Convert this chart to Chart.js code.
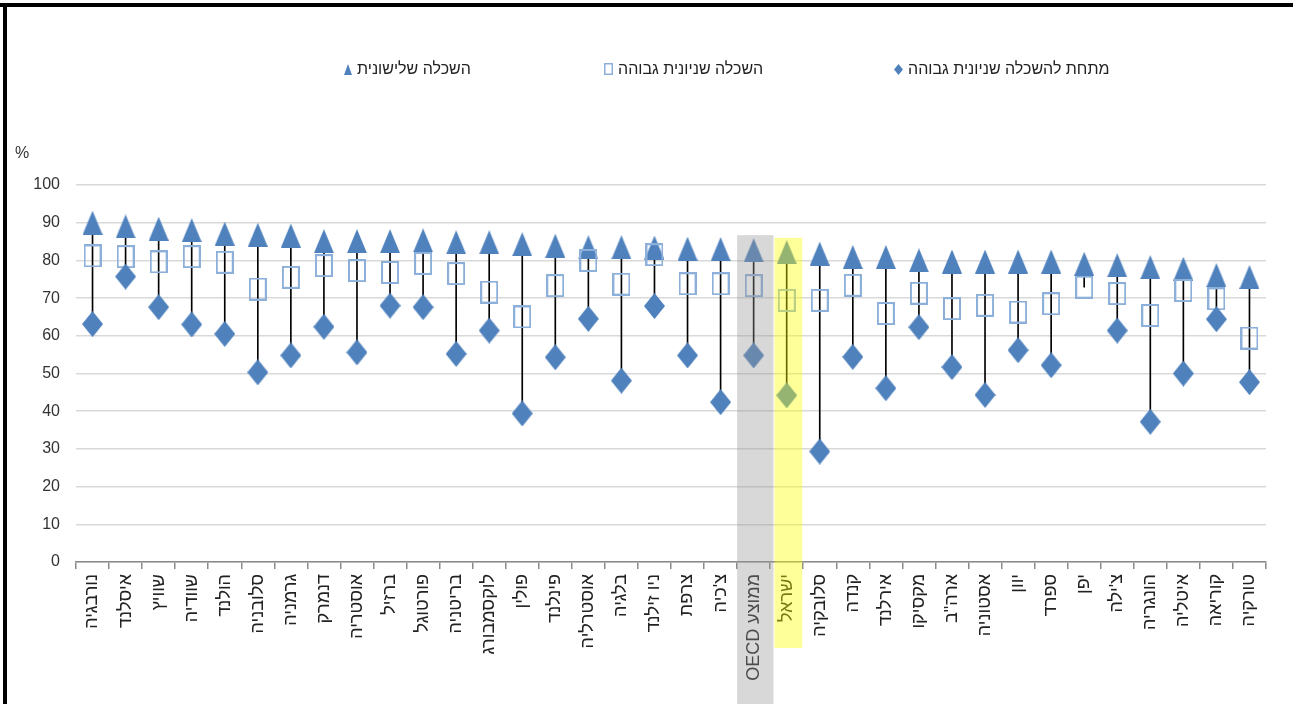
<!DOCTYPE html>
<html lang="he">
<head>
<meta charset="utf-8">
<script src="https://cdn.jsdelivr.net/npm/chart.js@4.4.1/dist/chart.umd.min.js"></script>
<style>
  html, body { margin: 0; padding: 0; background: #fff; }
  #wrap { position: relative; width: 1293px; height: 704px; overflow: hidden; background: #fff; }
  #c { position: absolute; left: 0; top: 0; }
  .frameTop { position: absolute; left: 0; top: 3px; width: 1293px; height: 4px; background: #000; }
  .frameLeft { position: absolute; left: 3px; top: 3px; width: 4px; height: 701px; background: #000; }
  .lg { position: absolute; top: 60px; height: 18px; display: flex; align-items: center; gap: 5px;
        font-family: "Liberation Sans", "DejaVu Sans", sans-serif; font-size: 16px; color: #222; white-space: nowrap; }
  .lg span { direction: rtl; unicode-bidi: isolate; }
  .lg canvas { display: block; }
</style>
</head>
<body>
<div id="wrap">
  <canvas id="c" width="1293" height="704" dir="rtl"></canvas>
  <div class="frameTop"></div>
  <div class="frameLeft"></div>
  <div class="lg" id="lg0" style="left:344px"></div>
  <div class="lg" id="lg1" style="left:604px"></div>
  <div class="lg" id="lg2" style="left:894px"></div>
</div>
<script>
// ---- data ----
const categories = ['נורבגיה','איסלנד','שוויץ','שוודיה','הולנד','סלובניה','גרמניה','דנמרק','אוסטריה','ברזיל',
  'פורטוגל','בריטניה','לוקסמבורג','פולין','פינלנד','אוסטרליה','בלגיה','ניו זילנד','צרפת','צ\'כיה',
  'ממוצע OECD','ישראל','סלובקיה','קנדה','אירלנד','מקסיקו','ארה"ב','אסטוניה','יוון','ספרד',
  'יפן','צ\'ילה','הונגריה','איטליה','קוריאה','טורקיה'];

const tertiary = [90.0, 89.0, 88.4, 88.0, 87.1, 86.8, 86.6, 85.1, 85.1, 85.1,
  85.3, 84.8, 84.8, 84.3, 83.9, 83.5, 83.5, 83.4, 83.1, 83.0,
  82.7, 82.2, 81.8, 80.9, 80.9, 80.0, 79.7, 79.7, 79.7, 79.7,
  79.1, 78.7, 78.2, 77.8, 76.1, 75.6];

const upperSecondary = [81.2, 81.0, 79.6, 81.0, 79.5, 72.4, 75.5, 78.6, 77.3, 76.8,
  79.2, 76.5, 71.6, 65.0, 73.3, 80.0, 73.7, 81.5, 73.8, 73.8,
  73.3, 69.4, 69.4, 73.4, 65.9, 71.3, 67.2, 68.1, 66.3, 68.5,
  72.9, 71.2, 65.4, 72.0, 69.8, 59.4];

const belowUpperSecondary = [63.1, 75.7, 67.6, 63.0, 60.5, 50.3, 54.8, 62.4, 55.6, 68.0,
  67.6, 55.2, 61.4, 39.4, 54.3, 64.5, 48.1, 67.9, 54.8, 42.4,
  54.8, 44.2, 29.3, 54.4, 46.1, 62.3, 51.7, 44.3, 56.2, 52.2,
  null, 61.4, 37.2, 50.0, 64.4, 47.7];

const seriesNames = ['השכלה שלישונית', 'השכלה שניונית גבוהה', 'מתחת להשכלה שניונית גבוהה'];
const yTicks = [0, 10, 20, 30, 40, 50, 60, 70, 80, 90, 100];
const highlightOECD = 'ממוצע OECD';
const highlightIsrael = 'ישראל';

// ---- marker images ----
const BLUE = '#4F81BD';
const LIGHT = '#8DB0DA';
function makeMarker(kind, w, h, lw) {
  const c = document.createElement('canvas');
  c.width = w; c.height = h;
  const g = c.getContext('2d');
  g.beginPath();
  if (kind === 'tri') {
    g.moveTo(w / 2, 0); g.lineTo(w, h); g.lineTo(0, h); g.closePath();
    g.fillStyle = BLUE; g.fill();
  } else if (kind === 'dia') {
    g.moveTo(w / 2, 0); g.lineTo(w, h / 2); g.lineTo(w / 2, h); g.lineTo(0, h / 2); g.closePath();
    g.fillStyle = BLUE; g.fill();
  } else {
    g.lineWidth = lw;
    g.strokeStyle = LIGHT;
    g.strokeRect(lw / 2, lw / 2, w - lw, h - lw);
  }
  return c;
}
const triImg = makeMarker('tri', 20, 24);
const sqImg = makeMarker('sq', 18, 23, 2);
const diaImg = makeMarker('dia', 21, 26);

// legend (HTML text)
const legendDefs = [
  makeMarker('tri', 8, 11),
  makeMarker('sq', 9, 12, 1.5),
  makeMarker('dia', 9, 11)
];
legendDefs.forEach((m, i) => {
  const el = document.getElementById('lg' + i);
  el.appendChild(m);
  const s = document.createElement('span');
  s.textContent = seriesNames[i];
  el.appendChild(s);
});

// high-low ranges built from the series
const ranges = categories.map((_, i) => {
  const vals = [tertiary[i], upperSecondary[i], belowUpperSecondary[i]].filter(v => v !== null && v !== undefined);
  return [Math.min(...vals), Math.max(...vals)];
});

const FONT = '"Liberation Sans", "DejaVu Sans", sans-serif';

const decorPlugin = {
  id: 'decor',
  beforeDraw(chart) {
    chart.ctx.direction = 'rtl';
  },
  afterDraw(chart) {
    const { ctx, scales: { x, y } } = chart;
    const w = x.getPixelForValue(1) - x.getPixelForValue(0);
    const c0 = x.getPixelForValue(categories.indexOf(highlightOECD));
    const c1 = x.getPixelForValue(categories.indexOf(highlightIsrael));
    ctx.save();
    // grey band (OECD average)
    ctx.fillStyle = 'rgba(150,150,150,0.37)';
    const gTop = y.getPixelForValue(86.7);
    ctx.fillRect(c0 - 0.5 * w, gTop, 1.1 * w, chart.height - gTop);
    // yellow band (Israel)
    ctx.fillStyle = 'rgba(255,255,0,0.40)';
    const yTop = y.getPixelForValue(86);
    ctx.fillRect(c1 - 0.37 * w, yTop, 0.84 * w, (y.bottom + 86) - yTop);
    // % unit label
    ctx.direction = 'ltr';
    ctx.fillStyle = '#333';
    ctx.font = '16px ' + FONT;
    ctx.textAlign = 'center';
    ctx.textBaseline = 'middle';
    ctx.fillText('%', 22, y.top - 31);
    ctx.restore();
  }
};

new Chart(document.getElementById('c'), {
  type: 'bar',
  data: {
    labels: categories,
    datasets: [
      {
        type: 'line', label: seriesNames[2], data: belowUpperSecondary,
        showLine: false, pointStyle: diaImg, pointRadius: 12, pointHoverRadius: 12,
        backgroundColor: BLUE, borderColor: BLUE, order: 1
      },
      {
        type: 'line', label: seriesNames[1], data: upperSecondary,
        showLine: false, pointStyle: sqImg, pointRadius: 12, pointHoverRadius: 12,
        backgroundColor: LIGHT, borderColor: LIGHT, order: 2
      },
      {
        type: 'line', label: seriesNames[0], data: tertiary,
        showLine: false, pointStyle: triImg, pointRadius: 12, pointHoverRadius: 12,
        backgroundColor: BLUE, borderColor: BLUE, order: 3
      },
      {
        type: 'bar', label: 'range', data: ranges,
        backgroundColor: '#000', borderWidth: 0, barThickness: 1, order: 10
      }
    ]
  },
  options: {
    responsive: false,
    animation: false,
    layout: { padding: { top: 185, right: 27, left: 0, bottom: 0 } },
    plugins: {
      legend: { display: false },
      tooltip: { enabled: false },
      title: { display: false }
    },
    scales: {
      x: {
        offset: true,
        grid: { display: true, drawOnChartArea: false, drawTicks: true, tickLength: 7, color: '#8a8a8a', lineWidth: 1.5, offset: true },
        border: { display: true, color: '#8a8a8a', width: 1.5 },
        ticks: {
          autoSkip: false, minRotation: 90, maxRotation: 90, padding: 5,
          color: '#222', font: { family: FONT, size: 18 }
        },
        afterFit(scale) { scale.height = 142; }
      },
      y: {
        min: yTicks[0], max: yTicks[yTicks.length - 1],
        afterBuildTicks(scale) { scale.ticks = yTicks.map(v => ({ value: v })); },
        grid: { color: '#d9d9d9', lineWidth: 1.5, drawTicks: false },
        border: { display: false },
        ticks: { padding: 16, color: '#333', font: { family: FONT, size: 16 } },
        afterFit(scale) { scale.width = 76; }
      }
    }
  },
  plugins: [decorPlugin]
});
</script>
</body>
</html>
